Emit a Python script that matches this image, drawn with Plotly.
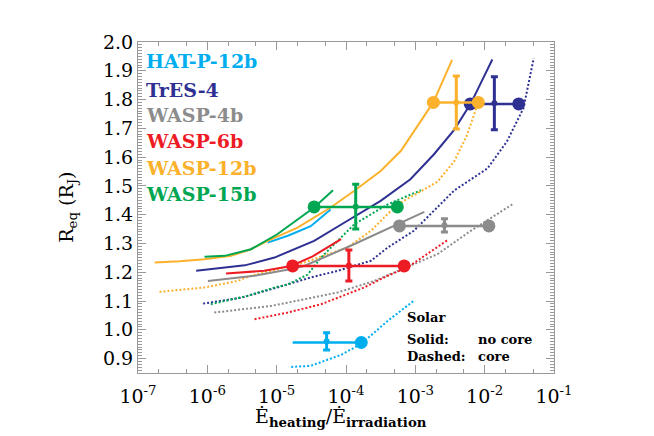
import plotly.graph_objects as go

# ---------------- data ----------------
planet_names = ["HAT-P-12b", "TrES-4", "WASP-4b", "WASP-6b", "WASP-12b", "WASP-15b"]
planet_colors = ["#00AEEF", "#2E3192", "#8C8C8C", "#ED1C24", "#FBB12B", "#00A651"]

# solid (no core) curves
hat_solid_x = [7.4e-6, 1.45e-5, 3.1e-5, 6.0e-5]
hat_solid_y = [1.303, 1.327, 1.360, 1.418]
tres_solid_x = [6.9e-7, 3.47e-6, 9.3e-6, 3.47e-5, 1.05e-4, 3.16e-4, 8.5e-4, 1.86e-3, 3.63e-3, 6.3e-3, 1.29e-2]
tres_solid_y = [1.205, 1.224, 1.251, 1.309, 1.379, 1.448, 1.523, 1.610, 1.695, 1.786, 1.939]
wasp4_solid_x = [1.02e-6, 4.8e-6, 1.62e-5, 2.5e-5, 1.17e-4, 5.5e-4, 1.35e-3]
wasp4_solid_y = [1.170, 1.188, 1.211, 1.222, 1.292, 1.365, 1.410]
wasp6_solid_x = [1.86e-6, 6.6e-6, 1.62e-5, 3.3e-5, 8.5e-5]
wasp6_solid_y = [1.196, 1.205, 1.222, 1.255, 1.315]
wasp12_solid_x = [1.74e-7, 4.0e-7, 9.1e-7, 2.19e-6, 4.27e-6, 7.41e-6, 2.0e-5, 6.0e-5, 1.32e-4, 3.16e-4, 6.2e-4, 1.48e-3, 1.82e-3, 2.29e-3, 3.39e-3]
wasp12_solid_y = [1.234, 1.238, 1.245, 1.257, 1.280, 1.309, 1.355, 1.425, 1.483, 1.552, 1.622, 1.755, 1.791, 1.845, 1.938]
wasp15_solid_x = [9.1e-7, 1.78e-6, 4.27e-6, 1.02e-5, 3.47e-5, 6.5e-5]
wasp15_solid_y = [1.254, 1.257, 1.280, 1.332, 1.425, 1.485]

# dotted (core) curves
hat_core_x = [1.62e-5, 3.1e-5, 8.5e-5, 1.62e-4, 2.57e-4, 4.0e-4, 9.5e-4]
hat_core_y = [0.871, 0.875, 0.913, 0.950, 0.991, 1.031, 1.101]
tres_core_x = [8.7e-7, 3.1e-6, 1.02e-5, 3.1e-5, 7.6e-5, 2.29e-4, 4.0e-4, 9.5e-4, 3.63e-3, 1.10e-2, 2.09e-2, 3.63e-2, 5.1e-2]
tres_core_y = [1.091, 1.112, 1.147, 1.182, 1.205, 1.240, 1.286, 1.344, 1.484, 1.561, 1.654, 1.770, 1.944]
wasp4_core_x = [1.26e-6, 8.3e-6, 2.5e-5, 7.6e-5, 2.57e-4, 7.2e-4, 2.09e-3, 6.3e-3, 2.63e-2]
wasp4_core_y = [1.060, 1.083, 1.106, 1.130, 1.170, 1.215, 1.263, 1.344, 1.439]
wasp6_core_x = [4.8e-6, 1.45e-5, 4.37e-5, 1.82e-4, 4.0e-4, 7.6e-4, 2.88e-3]
wasp6_core_y = [1.037, 1.060, 1.089, 1.147, 1.188, 1.216, 1.311]
wasp12_core_x = [2.04e-7, 9.1e-7, 2.75e-6, 4.27e-6, 2.5e-5, 1.05e-4, 2.29e-4, 5.5e-4, 1.2e-3, 2.09e-3, 3.63e-3, 5.6e-3, 7.8e-3]
wasp12_core_y = [1.132, 1.147, 1.170, 1.188, 1.234, 1.286, 1.344, 1.436, 1.481, 1.515, 1.585, 1.678, 1.780]
wasp15_core_x = [1.12e-6, 3.8e-6, 9.3e-6, 1.45e-5, 2.8e-5, 4.37e-5, 1.32e-4, 4.0e-4, 1.2e-3]
wasp15_core_y = [1.089, 1.118, 1.147, 1.158, 1.192, 1.251, 1.367, 1.436, 1.485]

# observed radius: range of heating (no core -> core) and radius error
range_lo = [1.70e-5, 6.2e-3, 5.9e-4, 1.70e-5, 1.82e-3, 3.47e-5]
range_hi = [1.66e-4, 3.1e-2, 1.15e-2, 6.9e-4, 8.1e-3, 5.5e-4]
obs_radius = [0.956, 1.785, 1.361, 1.222, 1.790, 1.427]
err_x = [5.25e-5, 1.38e-2, 2.63e-3, 1.10e-4, 3.9e-3, 1.38e-4]
err_center = [0.960, 1.787, 1.363, 1.2235, 1.790, 1.428]
err_size = [0.030, 0.092, 0.023, 0.0535, 0.092, 0.078]
left_marker = [False, True, True, True, True, True]

x_tick_vals = [1e-7, 1e-6, 1e-5, 1e-4, 1e-3, 1e-2, 1e-1]
x_tick_text = ["10<sup>-7</sup>", "10<sup>-6</sup>", "10<sup>-5</sup>", "10<sup>-4</sup>",
               "10<sup>-3</sup>", "10<sup>-2</sup>", "10<sup>-1</sup>"]
y_tick_vals = [0.9, 1.0, 1.1, 1.2, 1.3, 1.4, 1.5, 1.6, 1.7, 1.8, 1.9, 2.0]
y_tick_text = ["0.9", "1.0", "1.1", "1.2", "1.3", "1.4", "1.5", "1.6", "1.7", "1.8", "1.9", "2.0"]

solid_x = [hat_solid_x, tres_solid_x, wasp4_solid_x, wasp6_solid_x, wasp12_solid_x, wasp15_solid_x]
solid_y = [hat_solid_y, tres_solid_y, wasp4_solid_y, wasp6_solid_y, wasp12_solid_y, wasp15_solid_y]
core_x = [hat_core_x, tres_core_x, wasp4_core_x, wasp6_core_x, wasp12_core_x, wasp15_core_x]
core_y = [hat_core_y, tres_core_y, wasp4_core_y, wasp6_core_y, wasp12_core_y, wasp15_core_y]

SERIF = "DejaVu Serif"
fig = go.Figure()

for i in range(6):
    fig.add_trace(go.Scatter(x=core_x[i], y=core_y[i], mode="lines",
                             line=dict(color=planet_colors[i], width=2, dash="2px,2px"),
                             showlegend=False, hoverinfo="skip"))
for i in range(6):
    fig.add_trace(go.Scatter(x=solid_x[i], y=solid_y[i], mode="lines",
                             line=dict(color=planet_colors[i], width=2),
                             showlegend=False, hoverinfo="skip"))
for i in range(6):
    fig.add_trace(go.Scatter(x=[range_lo[i], range_hi[i]], y=[obs_radius[i], obs_radius[i]],
                             mode="lines",
                             line=dict(color=planet_colors[i], width=2.5),
                             showlegend=False, hoverinfo="skip"))
    mx = [range_lo[i], range_hi[i]] if left_marker[i] else [range_hi[i]]
    my = [obs_radius[i]] * len(mx)
    fig.add_trace(go.Scatter(x=mx, y=my, mode="markers",
                             marker=dict(color=planet_colors[i], size=13, opacity=1, line=dict(width=0)),
                             showlegend=False, hoverinfo="skip"))
    fig.add_trace(go.Scatter(x=[err_x[i]], y=[err_center[i]], mode="markers",
                             marker=dict(size=0, color=planet_colors[i], opacity=1),
                             error_y=dict(type="data", array=[err_size[i]], color=planet_colors[i],
                                          thickness=3, width=3.5),
                             showlegend=False, hoverinfo="skip"))

axis_color = "#999999"
fig.update_xaxes(type="log", range=[-7, -1], tickvals=x_tick_vals, ticktext=x_tick_text,
                 ticks="inside", ticklen=8, tickcolor=axis_color, showline=True,
                 linecolor=axis_color, linewidth=1, mirror="ticks", showgrid=False,
                 zeroline=False, tickfont=dict(family=SERIF, size=19, color="#000"),
                 ticklabelstandoff=6,
                 minor=dict(ticks="inside", ticklen=4, tickcolor=axis_color, showgrid=False))
fig.update_yaxes(range=[0.85, 2.0], tickvals=y_tick_vals, ticktext=y_tick_text,
                 ticks="inside", ticklen=8, tickcolor=axis_color, showline=True,
                 linecolor=axis_color, linewidth=1, mirror="ticks", showgrid=False,
                 zeroline=False, tickfont=dict(family=SERIF, size=19, color="#000"),
                 minor=dict(ticks="inside", ticklen=4, dtick=0.01, tickcolor=axis_color, showgrid=False))

legend_y = [0.943, 0.855, 0.779, 0.701, 0.619, 0.541]
for i in range(6):
    fig.add_annotation(x=0.014, y=legend_y[i], xref="paper", yref="paper", xanchor="left",
                       yanchor="middle", showarrow=False, text="<b>%s</b>" % planet_names[i],
                       font=dict(family=SERIF, size=19, color=planet_colors[i]))

note_font = dict(family=SERIF, size=13, color="#000")
nx1, nx2 = 0.643, 0.813
fig.add_annotation(x=nx1, y=0.169, xref="paper", yref="paper", xanchor="left", yanchor="middle",
                   showarrow=False, text="<b>Solar</b>", font=note_font)
fig.add_annotation(x=nx1, y=0.101, xref="paper", yref="paper", xanchor="left", yanchor="middle",
                   showarrow=False, text="<b>Solid:</b>", font=note_font)
fig.add_annotation(x=nx2, y=0.101, xref="paper", yref="paper", xanchor="left", yanchor="middle",
                   showarrow=False, text="<b>no core</b>", font=note_font)
fig.add_annotation(x=nx1, y=0.051, xref="paper", yref="paper", xanchor="left", yanchor="middle",
                   showarrow=False, text="<b>Dashed:</b>", font=note_font)
fig.add_annotation(x=nx2, y=0.051, xref="paper", yref="paper", xanchor="left", yanchor="middle",
                   showarrow=False, text="<b>core</b>", font=note_font)

fig.add_annotation(x=-0.17, y=0.5, xref="paper", yref="paper", xanchor="center", yanchor="middle",
                   textangle=-90, showarrow=False,
                   text="R<sub>eq</sub> (R<sub>J</sub>)", font=dict(family=SERIF, size=19, color="#000"))
fig.add_annotation(x=0.488, y=-0.135, xref="paper", yref="paper", xanchor="center", yanchor="middle",
                   showarrow=False,
                   text="Ė<sub><b>heating</b></sub>/Ė<sub><b>irradiation</b></sub>",
                   font=dict(family=SERIF, size=19, color="#000"))

fig.update_layout(width=654, height=436, margin=dict(l=130, r=108, t=34, b=71),
                  paper_bgcolor="white", plot_bgcolor="white", showlegend=False)

fig.write_html("out.html")
